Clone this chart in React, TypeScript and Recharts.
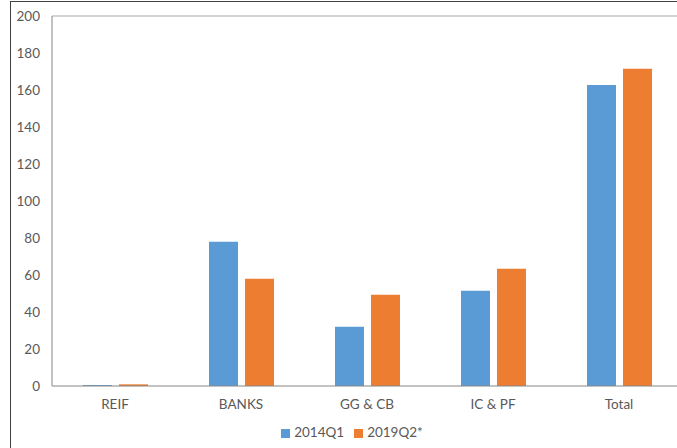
import { BarChart, Bar, XAxis, YAxis, Legend, ReferenceLine } from "recharts";

const categories = ["REIF", "BANKS", "GG & CB", "IC & PF", "Total"];
const q2014 = [0.5, 78, 32, 51.5, 162.7];
const q2019 = [0.9, 58, 49.3, 63.4, 171.5];
const yTicks = [0, 20, 40, 60, 80, 100, 120, 140, 160, 180, 200];

const data = categories.map((name, i) => ({ name, q2014: q2014[i], q2019: q2019[i] }));

const FONT = "Lato, 'Open Sans', sans-serif";
const TEXT = "#595959";

export default function App() {
  return (
    <div style={{ position: "fixed", left: 0, top: 0, width: 677, height: 448, overflow: "hidden", background: "#fff" }}>
      <div style={{ position: "absolute", left: 10, top: 1, right: 0, bottom: 0, borderLeft: "1px solid #404040", borderTop: "1px solid #404040" }} />
      <BarChart
        width={690}
        height={448}
        data={data}
        margin={{ top: 16, right: 8, left: 0, bottom: 8 }}
        barCategoryGap="24.6%"
        barGap={7}
        style={{ fontFamily: FONT }}
      >
        <ReferenceLine y={200} stroke="#a6a6a6" />
        <XAxis
          dataKey="name"
          height={38}
          tickLine={false}
          tickSize={0}
          tickMargin={13}
          stroke="#868686"
          tick={{ fill: TEXT, fontSize: 13.5, fontFamily: FONT }}
        />
        <YAxis
          width={52}
          domain={[0, 200]}
          ticks={yTicks}
          tickLine={false}
          tickSize={0}
          tickMargin={12}
          stroke="#868686"
          tick={{ fill: TEXT, fontSize: 13.5, fontFamily: FONT }}
        />
        <Legend
          verticalAlign="bottom"
          iconType="square"
          iconSize={9}
          wrapperStyle={{ fontSize: 13.5, fontFamily: FONT, color: TEXT, paddingLeft: 16 }}
          formatter={(v) => <span style={{ color: TEXT }}>{v}</span>}
        />
        <Bar dataKey="q2014" name="2014Q1" fill="#5b9bd5" isAnimationActive={false} />
        <Bar dataKey="q2019" name="2019Q2*" fill="#ed7d31" isAnimationActive={false} />
      </BarChart>
    </div>
  );
}
